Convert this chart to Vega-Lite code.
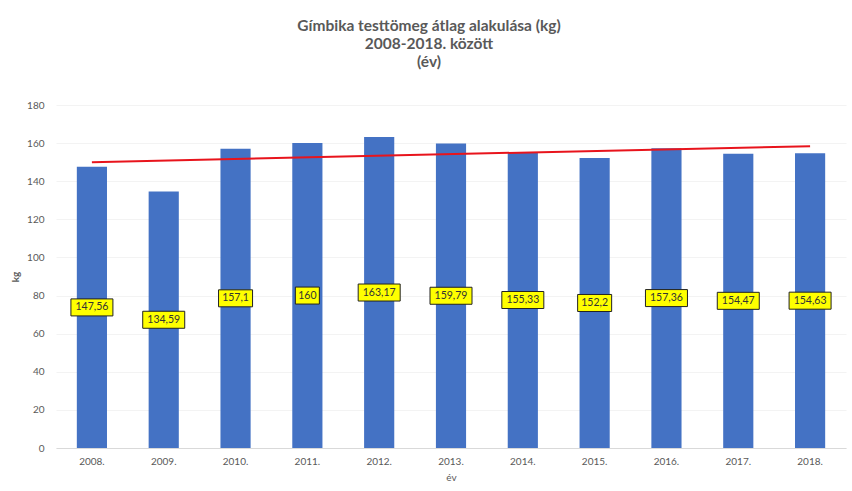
{
  "$schema": "https://vega.github.io/schema/vega-lite/v6.json",
  "width": 852,
  "height": 491,
  "autosize": {"type": "fit", "contains": "padding"},
  "padding": {"left": 10, "top": 18, "right": 6, "bottom": 9},
  "background": "white",
  "config": {
    "font": "Lato",
    "view": {"stroke": null},
    "locale": {"number": {"decimal": ",", "thousands": " ", "grouping": [3], "currency": ["", ""]}},
    "axisY": {
      "titleFontSize": 10,
      "titleFontWeight": "bold",
      "titleColor": "#595959",
      "titlePadding": 6,
      "labelOverlap": false,
      "labelFontSize": 10,
      "labelColor": "#595959",
      "labelPadding": 12,
      "ticks": false,
      "domain": false,
      "grid": true,
      "gridColor": "#f3f3f3"
    }
  },
  "title": {
    "text": ["Gímbika testtömeg átlag alakulása  (kg)", "2008-2018. között", "(év)"],
    "fontSize": 15.5,
    "fontWeight": "bold",
    "color": "#595959",
    "anchor": "middle",
    "lineHeight": 18,
    "offset": 30,
    "dx": -22
  },
  "datasets": {
    "bars": [
      {"ev": "2008.", "kg": 147.56},
      {"ev": "2009.", "kg": 134.59},
      {"ev": "2010.", "kg": 157.1},
      {"ev": "2011.", "kg": 160},
      {"ev": "2012.", "kg": 163.17},
      {"ev": "2013.", "kg": 159.79},
      {"ev": "2014.", "kg": 155.33},
      {"ev": "2015.", "kg": 152.2},
      {"ev": "2016.", "kg": 157.36},
      {"ev": "2017.", "kg": 154.47},
      {"ev": "2018.", "kg": 154.63}
    ],
    "trend": [
      {"ev": "2008.", "kg": 150.0},
      {"ev": "2018.", "kg": 158.4}
    ]
  },
  "encoding": {
    "x": {
      "field": "ev",
      "type": "nominal",
      "scale": {"paddingInner": 0.58, "paddingOuter": 0.29},
      "axis": {
        "title": "év",
        "titleFontSize": 10,
        "titleFontWeight": "normal",
        "titleColor": "#595959",
        "titlePadding": 6,
        "labelAngle": 0,
        "labelFontSize": 10,
        "labelColor": "#595959",
        "labelPadding": 8,
        "ticks": false,
        "domainColor": "#d9d9d9",
        "grid": false
      }
    }
  },
  "layer": [
    {
      "data": {"name": "bars"},
      "mark": {"type": "bar", "color": "#4472C4"},
      "encoding": {
        "y": {
          "field": "kg",
          "type": "quantitative",
          "scale": {"domain": [0, 180], "nice": false},
          "axis": {"title": "kg", "values": [0, 20, 40, 60, 80, 100, 120, 140, 160, 180]}
        }
      }
    },
    {
      "data": {"name": "trend"},
      "mark": {"type": "line", "color": "#e8141c", "strokeWidth": 2},
      "encoding": {
        "y": {"field": "kg", "type": "quantitative", "axis": {"title": "kg", "values": [0, 20, 40, 60, 80, 100, 120, 140, 160, 180]}}
      }
    },
    {
      "data": {"name": "bars"},
      "transform": [
        {"calculate": "datum.kg / 2", "as": "mid"},
        {"calculate": "length(format(datum.kg, '.2~f'))", "as": "len"}
      ],
      "mark": {"type": "point", "filled": true, "fill": "#ffff00", "stroke": "#222222", "strokeWidth": 1, "opacity": 1, "size": 1764},
      "encoding": {
        "y": {"field": "mid", "type": "quantitative", "axis": {"title": "kg", "values": [0, 20, 40, 60, 80, 100, 120, 140, 160, 180]}},
        "shape": {
          "field": "len",
          "type": "nominal",
          "legend": null,
          "scale": {
            "domain": [3, 4, 5, 6],
            "range": ["M-0.571,-0.405H0.571V0.405H-0.571Z", "M-0.7,-0.405H0.7V0.405H-0.7Z", "M-0.81,-0.405H0.81V0.405H-0.81Z", "M-1,-0.405H1V0.405H-1Z"]
          }
        }
      }
    },
    {
      "data": {"name": "bars"},
      "transform": [
        {"calculate": "datum.kg / 2", "as": "mid"}
      ],
      "mark": {"type": "text", "fontSize": 10.5, "color": "#333333", "baseline": "middle", "align": "center"},
      "encoding": {
        "y": {"field": "mid", "type": "quantitative", "axis": {"title": "kg", "values": [0, 20, 40, 60, 80, 100, 120, 140, 160, 180]}},
        "text": {"field": "kg", "type": "quantitative", "format": ".2~f"}
      }
    }
  ]
}
